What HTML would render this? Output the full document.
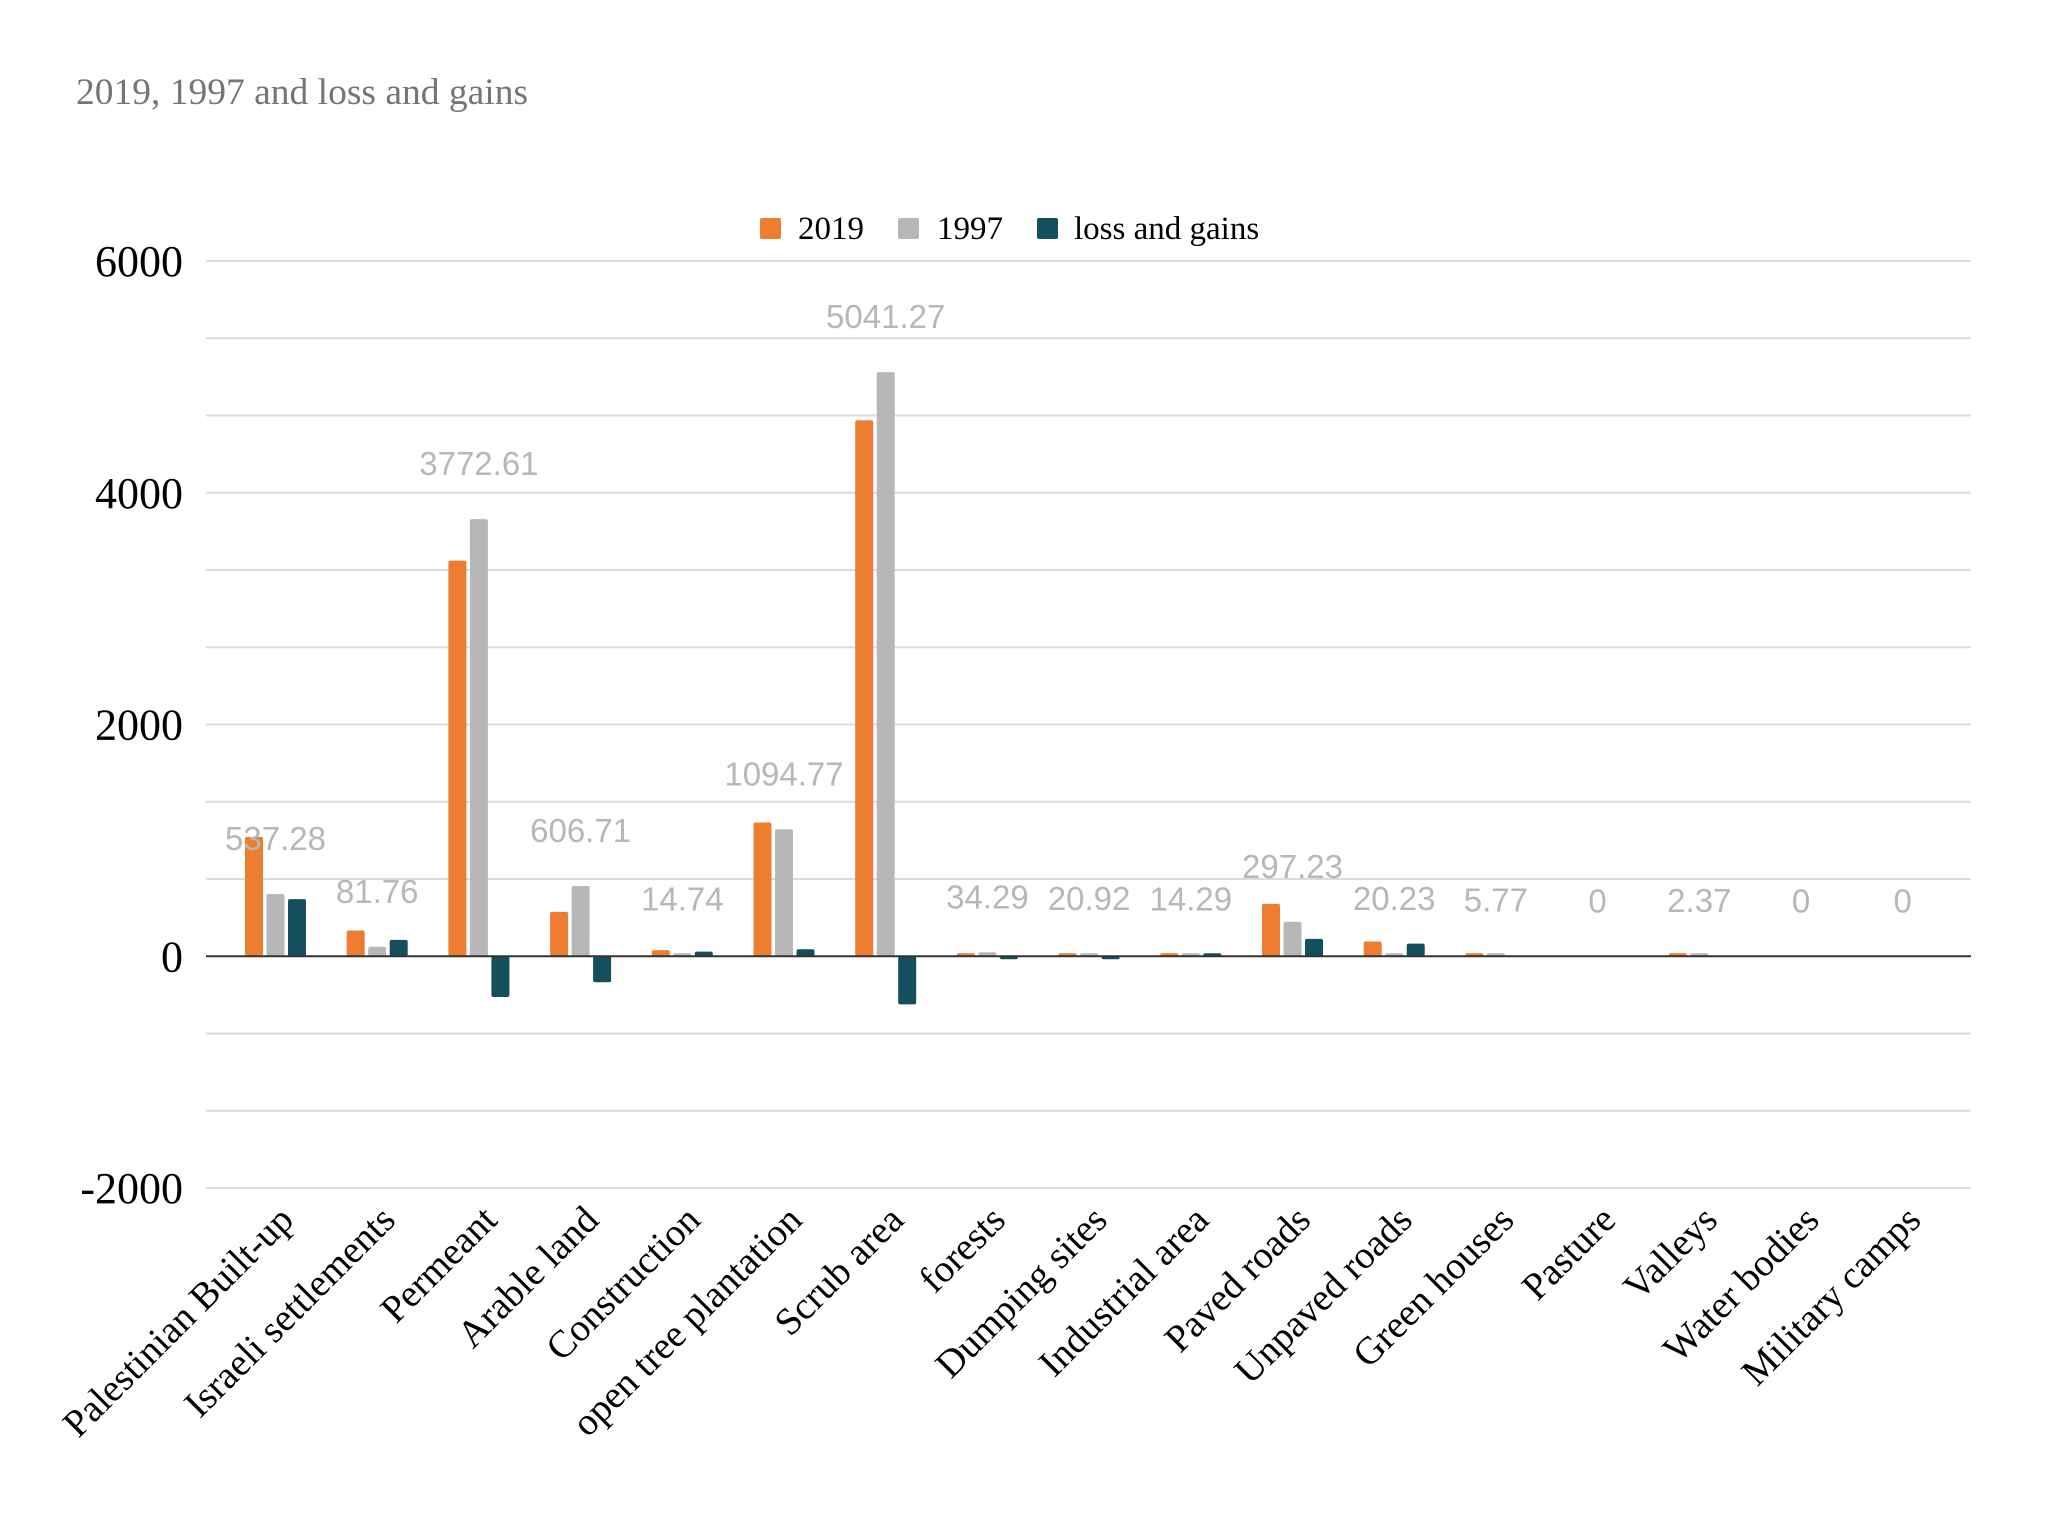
<!DOCTYPE html>
<html><head><meta charset="utf-8"><style>
html,body{margin:0;padding:0;background:#fff;}
svg{display:block;}
</style></head><body>
<svg id="chart" width="2047" height="1514" xmlns="http://www.w3.org/2000/svg">
<text x="76" y="104" font-family="Liberation Serif, serif" font-size="37.5" fill="#757575">2019, 1997 and loss and gains</text>
<g font-family="Liberation Serif, serif" font-size="33" fill="#000">
<g><rect x="760" y="218" width="21" height="21" rx="2" fill="#ed7d31"/><text x="798" y="239">2019</text></g>
<g><rect x="898" y="218" width="21" height="21" rx="2" fill="#b7b7b7"/><text x="937" y="239">1997</text></g>
<g><rect x="1037" y="218" width="21" height="21" rx="2" fill="#134f5c"/><text x="1074" y="239">loss and gains</text></g>
</g>
<g id="grid"></g><g id="bars"></g><g id="labels"></g>
</svg>
<script>
const categories=["Palestinian Built-up","Israeli settlements","Permeant","Arable land","Construction","open tree plantation","Scrub area","forests","Dumping sites","Industrial area","Paved roads","Unpaved roads","Green houses","Pasture","Valleys","Water bodies","Military camps"];
const values2019=[1030,222,3414,383,53,1154,4626,20,10,25,452,127,6,0,3,0,0];
const values1997=[537.28,81.76,3772.61,606.71,14.74,1094.77,5041.27,34.29,20.92,14.29,297.23,20.23,5.77,0,2.37,0,0];
const valuesLoss=[493,141,-352,-224,40,60,-415,-14,-10,10,150,109,0,0,0,0,0];
const labels1997=["537.28","81.76","3772.61","606.71","14.74","1094.77","5041.27","34.29","20.92","14.29","297.23","20.23","5.77","0","2.37","0","0"];
const yTicks=[-2000,0,2000,4000,6000];
const NS="http://www.w3.org/2000/svg";
const X0=206,X1=1971,YMAX=6000,YMIN=-2000,PTOP=261,PBOT=1188;
function y(v){return PTOP+(YMAX-v)/(YMAX-YMIN)*(PBOT-PTOP);}
function cx(i){return 275.5+101.7*i;}
function mk(tag,attrs,parent){const e=document.createElementNS(NS,tag);for(const k in attrs)e.setAttribute(k,attrs[k]);parent.appendChild(e);return e;}
const grid=document.getElementById('grid'),bars=document.getElementById('bars'),lab=document.getElementById('labels');
for(let k=0;k<=12;k++){const v=YMIN+k*(YMAX-YMIN)/12;
 const l=mk('line',{x1:X0,x2:X1,y1:y(v),y2:y(v),stroke:'#dcdcdc','stroke-width':Math.abs(v)<1e-6?0:2},grid);
 
 }
yTicks.forEach(t=>{const tx=mk('text',{x:183,y:y(t)+15,'text-anchor':'end','font-family':'Liberation Serif, serif','font-size':44,fill:'#000'},grid);tx.textContent=t;
 
 });
const series=[[values2019,'#ed7d31','2019'],[values1997,'#b7b7b7','1997'],[valuesLoss,'#134f5c','loss']];
const BW=18,STEP=21.5;
categories.forEach((c,i)=>{
 series.forEach((s,j)=>{const v=s[0][i];if(v===0)return;
  const x=cx(i)+(j-1)*STEP-BW/2;const y0=y(0),y1=y(v);
  const h=Math.max(Math.abs(y1-y0),3);
  const r=mk('rect',{x:x,y:v>0?y0-h:y0,width:BW,height:h,rx:2,fill:s[1]},bars);
  
  });
 const dl=mk('text',{x:cx(i),y:y(Math.max(values1997[i],0))-44,'text-anchor':'middle','font-family':'Liberation Sans, sans-serif','font-size':33,fill:'#b7b7b7'},lab);
 dl.textContent=labels1997[i];
 
 
 const xl=mk('text',{x:0,y:0,'text-anchor':'end','font-family':'Liberation Serif, serif','font-size':38.5,fill:'#000',transform:'translate('+(cx(i)+20)+',1222) rotate(-45)'},lab);
 xl.textContent=c;
 
 
});
const z=mk('line',{x1:X0,x2:X1,y1:y(0),y2:y(0),stroke:'#333','stroke-width':2},bars);


</script>
</body></html>
